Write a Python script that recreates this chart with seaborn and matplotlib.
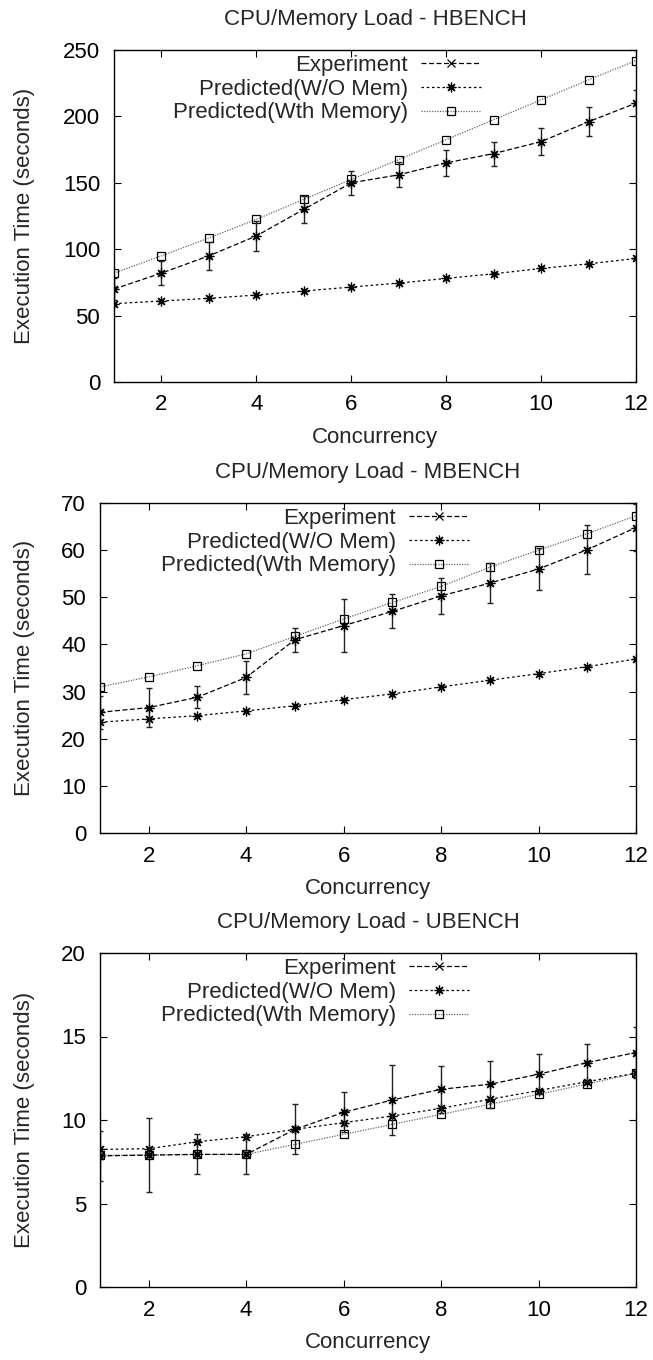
import numpy as np
import matplotlib
matplotlib.use("Agg")
import matplotlib.pyplot as plt
import seaborn as sns
from matplotlib.lines import Line2D

# ---- data ----
concurrency = [1, 2, 3, 4, 5, 6, 7, 8, 9, 10, 11, 12]

h_exp = [70, 82, 95, 110, 130, 150, 156, 165, 172, 181, 196, 210]
h_err = [8, 9, 10.5, 11, 10, 9, 9.5, 10, 9, 10, 11, 10]
h_wo = [59, 61, 63, 65.5, 68.5, 71.5, 74.5, 78, 81.5, 85.5, 89, 93]
h_wth = [82, 95, 108.5, 122.5, 137.5, 152.5, 167.5, 182.5, 197.5, 212.5, 227.5, 242]

m_exp = [25.6, 26.6, 28.8, 33.0, 41.0, 44.0, 47.0, 50.3, 53.0, 56.0, 60.1, 64.8]
m_err = [3.5, 4.1, 2.3, 3.5, 2.5, 5.6, 3.6, 3.8, 4.2, 4.5, 5.2, 5.0]
m_wo = [23.5, 24.2, 24.9, 25.9, 27.0, 28.3, 29.5, 31.0, 32.4, 33.8, 35.3, 36.9]
m_wth = [31.0, 33.1, 35.5, 38.0, 41.7, 45.4, 48.9, 52.3, 56.4, 60.0, 63.5, 67.3]

u_exp = [7.85, 7.9, 7.94, 7.94, 9.44, 10.46, 11.2, 11.84, 12.14, 12.74, 13.44, 14.04]
u_err = [1.5, 2.2, 1.2, 1.2, 1.5, 1.2, 2.1, 1.4, 1.4, 1.2, 1.1, 1.5]
u_wo = [8.24, 8.28, 8.7, 9.0, 9.44, 9.84, 10.24, 10.7, 11.24, 11.76, 12.3, 12.8]
u_wth = [7.9, 7.9, 7.94, 7.94, 8.54, 9.14, 9.74, 10.34, 10.94, 11.54, 12.16, 12.8]

titles = ["CPU/Memory Load - HBENCH", "CPU/Memory Load - MBENCH", "CPU/Memory Load - UBENCH"]
labels = ["Experiment", "Predicted(W/O Mem)", "Predicted(Wth Memory)"]
x_ticks = [2, 4, 6, 8, 10, 12]
y_ticks = [[0, 50, 100, 150, 200, 250], [0, 10, 20, 30, 40, 50, 60, 70], [0, 5, 10, 15, 20]]
y_max = [250, 70, 20]

panels = [(h_exp, h_err, h_wo, h_wth), (m_exp, m_err, m_wo, m_wth), (u_exp, u_err, u_wo, u_wth)]

# ---- style ----
sns.set_theme(style="ticks")
plt.rcParams['font.family'] = ['Liberation Sans', 'DejaVu Sans']
FS = 16

W, H = 653, 1360
fig = plt.figure(figsize=(W / 100, H / 100), dpi=100)

# axes rectangles in pixels: left, right, top, bottom
rects = [(114, 636, 50, 382), (100, 636, 503, 833), (100, 636, 953, 1287)]
legend_x = [0.703, 0.689, 0.689]

ast = (8, 2, 0)
for i, (exp, err, wo, wth) in enumerate(panels):
    l, r, t, b = rects[i]
    ax = fig.add_axes([l / W, 1 - b / H, (r - l) / W, (b - t) / H])
    # Predicted (Wth Memory)
    sns.lineplot(x=concurrency, y=wth, ax=ax, color="#666666", linewidth=0.9,
                 linestyle=(0, (1, 1.1)), marker="s", markersize=6,
                 markerfacecolor="none", markeredgecolor="black", markeredgewidth=0.9)
    # Predicted (W/O Mem)
    sns.lineplot(x=concurrency, y=wo, ax=ax, color="black", linewidth=0.9,
                 linestyle=(0, (2, 2.2)), marker=ast, markersize=7,
                 markeredgecolor="black", markeredgewidth=0.9)
    # Experiment
    ax.errorbar(concurrency, exp, yerr=err, fmt="none", ecolor="#222222",
                elinewidth=1.0, capsize=2.5, capthick=1.0)
    sns.lineplot(x=concurrency, y=exp, ax=ax, color="black", linewidth=0.9,
                 linestyle=(0, (4, 2)), marker=ast, markersize=7,
                 markeredgecolor="black", markeredgewidth=0.9)

    ax.set_xlim(1, 12)
    ax.set_ylim(0, y_max[i])
    ax.set_xticks(x_ticks)
    ax.set_yticks(y_ticks[i])
    ax.tick_params(direction="in", top=True, right=True, labelsize=FS,
                   length=5, width=0.8, colors="black")
    ax.tick_params(axis="x", pad=9)
    ax.tick_params(axis="y", pad=10)
    for s in ax.spines.values():
        s.set_color("black")
        s.set_linewidth(1.0)
    ax.set_xlabel("Concurrency", fontsize=FS, labelpad=8)
    ax.set_ylabel("Execution Time (seconds)", fontsize=FS)
    ax.yaxis.set_label_coords((35 - l) / (r - l), 0.5)
    ax.set_title(titles[i], fontsize=FS, pad=18)

    handles = [
        Line2D([], [], color="black", linewidth=0.9, linestyle=(0, (4, 2)), marker="x",
               markersize=6, markeredgewidth=0.9),
        Line2D([], [], color="black", linewidth=0.9, linestyle=(0, (2, 2.2)), marker=ast,
               markersize=7, markeredgewidth=0.9),
        Line2D([], [], color="#666666", linewidth=0.9, linestyle=(0, (1, 1.1)), marker="s",
               markersize=6, markerfacecolor="none", markeredgecolor="black",
               markeredgewidth=0.9),
    ]
    ax.legend(handles, labels, loc="upper right", bbox_to_anchor=(legend_x[i], 0.985),
              frameon=False, fontsize=FS, markerfirst=False, handlelength=2.7,
              handletextpad=0.6, labelspacing=0.12, borderaxespad=0, borderpad=0)

fig.savefig("out.png", dpi=100)
